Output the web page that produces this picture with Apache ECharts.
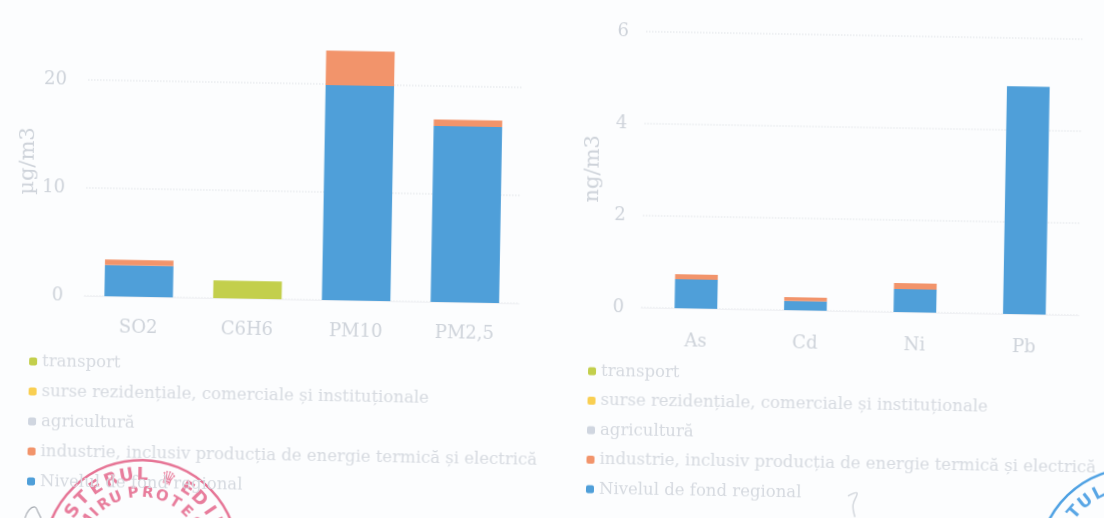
<!DOCTYPE html>
<html>
<head>
<meta charset="utf-8">
<style>
html,body{margin:0;padding:0;background:#fcfdfe;overflow:hidden;width:1104px;height:518px}
#chart{position:absolute;left:-40px;top:-40px;width:1184px;height:598px;transform:rotate(1deg);transform-origin:592px 299px}
</style>
<script src="https://cdn.jsdelivr.net/npm/echarts@6/dist/echarts.min.js"></script>
</head>
<body>
<div id="chart"></div>
<script>
// Concentration contributions by source, stacked per pollutant
const gasCategories = ['SO2', 'C6H6', 'PM10', 'PM2,5'];
const gasRegional   = [2.9, 0, 19.9, 16.3];
const gasIndustry   = [0.5, 0, 3.2, 0.6];
const gasAgri       = [0, 0, 0, 0];
const gasResidential= [0, 0, 0, 0];
const gasTransport  = [0, 1.65, 0, 0];

const metalCategories = ['As', 'Cd', 'Ni', 'Pb'];
const metalRegional   = [0.63, 0.2, 0.5, 4.95];
const metalIndustry   = [0.11, 0.08, 0.13, 0];
const metalAgri       = [0, 0, 0, 0];
const metalResidential= [0, 0, 0, 0];
const metalTransport  = [0, 0, 0, 0];

const sourceNames = [
  'Nivelul de fond regional',
  'industrie, inclusiv producția de energie termică și electrică',
  'agricultură',
  'surse rezidențiale, comerciale și instituționale',
  'transport'
];
const sourceColors = ['#4f9fd9', '#f2946b', '#d0d6e0', '#f9cf52', '#c3cf4c'];
const legendOrder = sourceNames.slice().reverse();

const ink = '#ced3da';
const serif = '"DejaVu Serif", serif';
const pad = 40;                       // canvas overscan so the tilted sheet has no bare corners
const tilt = Math.PI / 180;           // the sheet sits one degree off square

function stackSeries(rows, axisIndex, stack, barWidth) {
  return rows.map((data, i) => ({
    type: 'bar', name: sourceNames[i], stack, data, barWidth,
    xAxisIndex: axisIndex, yAxisIndex: axisIndex,
    itemStyle: { color: sourceColors[i] }
  }));
}
function xAxis(data, gridIndex, margin) {
  return { type: 'category', data, gridIndex,
    axisLine: { lineStyle: { color: '#f0f1f4' } }, axisTick: { show: false },
    axisLabel: { color: ink, fontFamily: serif, fontSize: 18, margin } };
}
function yAxis(name, max, interval, gridIndex, nameGap, namePadding, labelMargin) {
  return { type: 'value', min: 0, max, interval, gridIndex, name,
    nameLocation: 'middle', nameGap, nameRotate: 90,
    nameTextStyle: { color: ink, fontFamily: serif, fontSize: 21, padding: namePadding },
    axisLine: { show: false }, axisTick: { show: false },
    axisLabel: { color: ink, fontFamily: serif, fontSize: 18, margin: labelMargin },
    splitLine: { lineStyle: { color: '#e9ebef', type: 'dotted', width: 1.5 } } };
}
function legend(left, top, itemGap) {
  return { orient: 'vertical', left: left + pad, top: top + pad, data: legendOrder, itemGap,
    itemWidth: 8, itemHeight: 8, icon: 'roundRect',
    textStyle: { color: '#d6dae0', fontFamily: serif, fontSize: 16.5 } };
}

// Ink stamps and pen marks are placed in sheet coordinates, so undo the tilt for them
function onSheet(x, y) {
  const dx = x - 552, dy = y - 259;
  return [552 + dx * Math.cos(tilt) + dy * Math.sin(tilt) + pad,
          259 - dx * Math.sin(tilt) + dy * Math.cos(tilt) + pad];
}
function stamp(cx, cy, color, radius, rings) {
  const [x, y] = onSheet(cx, cy);
  const children = [{ type: 'circle', shape: { r: radius }, style: { fill: 'none', stroke: color, lineWidth: 2.5, opacity: 0.85 } }];
  rings.forEach(ring => ring.glyphs.forEach(([ch, deg]) => {
    const a = deg * Math.PI / 180;
    children.push({ type: 'text', x: ring.r * Math.sin(a), y: -ring.r * Math.cos(a), rotation: -a,
      style: { text: ch, fill: color, opacity: 0.8, font: 'bold ' + ring.size + 'px "DejaVu Sans"', align: 'center', verticalAlign: 'middle' } });
  }));
  return { type: 'group', x, y, silent: true, children };
}
const redOuter = [['I', -68], ['S', -57], ['T', -46], ['E', -34], ['R', -22], ['U', -11], ['L', 0], ['♛', 18], ['E', 33], ['D', 44], ['I', 55], ['U', 66]];
const redInner = [['M', -58], ['I', -47], ['R', -36], ['U', -24], ['P', -8], ['R', 5], ['O', 18], ['T', 31], ['E', 44], ['C', 57]];
const blueOuter = [['T', -50], ['U', -39], ['L', -28]];

const penMarks = [
  { points: [[25, 518], [29, 510], [35, 507], [38, 512], [41, 518]], stroke: '#a4a9b0', width: 1.2 },
  { points: [[848, 496], [857, 493], [853, 505], [855, 517]], stroke: '#d3d7dd', width: 1.5 }
].map(m => ({ type: 'polyline', silent: true, shape: { points: m.points.map(p => onSheet(p[0], p[1])), smooth: 0.4 },
  style: { fill: 'none', stroke: m.stroke, lineWidth: m.width } }));

const chart = echarts.init(document.getElementById('chart'), null, { renderer: 'canvas' });
chart.setOption({
  animation: false,
  backgroundColor: '#fcfdfe',
  legend: [legend(26, 357, 13), legend(585, 357, 12.5)],
  grid: [
    { left: 85 + pad, width: 435, top: -20 + pad, height: 324, outerBoundsMode: 'none' },
    { left: 642 + pad, width: 438, top: 30 + pad, height: 276, outerBoundsMode: 'none' }
  ],
  xAxis: [xAxis(gasCategories, 0, 22), xAxis(metalCategories, 1, 24)],
  yAxis: [
    yAxis('µg/m3', 30, 10, 0, 43, [0, 56, 0, 0], 21),
    yAxis('ng/m3', 6, 2, 1, 40, [0, 0, 0, 0], 17)
  ],
  series: [
    ...stackSeries([gasRegional, gasIndustry, gasAgri, gasResidential, gasTransport], 0, 'gas', '63%'),
    ...stackSeries([metalRegional, metalIndustry, metalAgri, metalResidential, metalTransport], 1, 'metal', '39%')
  ],
  graphic: [
    stamp(141, 557, '#e25c83', 97, [{ r: 82, size: 18, glyphs: redOuter }, { r: 64, size: 15, glyphs: redInner }]),
    stamp(1135, 565, '#2f90de', 97, [{ r: 80, size: 17, glyphs: blueOuter }]),
    ...penMarks
  ]
});
</script>
</body>
</html>
